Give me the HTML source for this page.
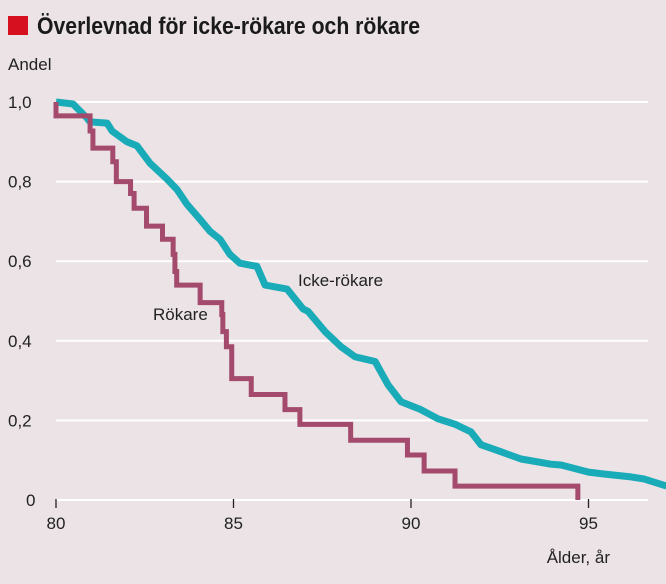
<!DOCTYPE html>
<html><head><meta charset="utf-8"><style>
body{margin:0;background:#ebe3e5;}
svg{display:block;font-family:"Liberation Sans",sans-serif;}
</style></head><body>
<svg width="666" height="584" viewBox="0 0 666 584">
<rect x="0" y="0" width="666" height="584" fill="#ebe3e5"/>
<rect x="8" y="16" width="20" height="19" fill="#d7101f"/>
<text x="37" y="34" font-family="Liberation Sans Narrow, Liberation Sans, sans-serif" font-weight="bold" font-size="24" textLength="383" lengthAdjust="spacingAndGlyphs" fill="#1a1a1a">Överlevnad för icke-rökare och rökare</text>
<text x="8" y="70" font-size="17" fill="#222">Andel</text>
<g id="grid"></g>
<g id="axis"></g>
<g id="series"></g>
<text x="298" y="286" font-size="17" fill="#222">Icke-rökare</text>
<text x="153" y="320" font-size="17" fill="#222">Rökare</text>
<text x="610" y="563" font-size="17" text-anchor="end" fill="#222">Ålder, år</text>
</svg>
<script>
const yTicks=[0,0.2,0.4,0.6,0.8,1.0];
const yTickLabels=["0","0,2","0,4","0,6","0,8","1,0"];
const xTicks=[80,85,90,95];
const xTickLabels=["80","85","90","95"];
const smokerAges=[80,80.96,81.04,81.6,81.7,82.1,82.2,82.55,83.0,83.3,83.35,83.4,84.06,84.67,84.7,84.8,84.95,85.5,86.45,86.87,88.3,89.9,90.37,91.24,94.7];
const smokerVals=[0.965,0.927,0.884,0.85,0.80,0.77,0.733,0.688,0.655,0.617,0.574,0.54,0.496,0.466,0.423,0.385,0.305,0.265,0.227,0.19,0.15,0.113,0.073,0.035,0];
const nonAges=[80,80.48,80.59,80.87,80.96,81.44,81.58,82.0,82.28,82.65,83.13,83.41,83.69,84.06,84.34,84.62,84.9,85.18,85.66,85.89,86.51,86.96,87.1,87.58,88.03,88.42,88.99,89.35,89.72,90.28,90.76,91.25,91.69,91.97,92.54,93.1,93.94,94.23,95.0,95.46,96.2,96.56,97.2];
const nonVals=[1.0,0.995,0.985,0.96,0.95,0.947,0.927,0.90,0.89,0.846,0.806,0.78,0.743,0.705,0.675,0.655,0.617,0.595,0.587,0.54,0.53,0.48,0.474,0.423,0.385,0.36,0.348,0.29,0.247,0.227,0.204,0.19,0.171,0.139,0.121,0.103,0.09,0.088,0.07,0.065,0.058,0.053,0.035];
const X=a=>56+(a-80)*35.5;
const Y=v=>500-v*398;
const NS="http://www.w3.org/2000/svg";
const grid=document.getElementById('grid'),axis=document.getElementById('axis'),ser=document.getElementById('series');
yTicks.forEach((t,i)=>{
 const l=document.createElementNS(NS,'line');
 l.setAttribute('x1',56);l.setAttribute('x2',648);l.setAttribute('y1',Y(t));l.setAttribute('y2',Y(t));
 l.setAttribute('stroke','#ffffff');l.setAttribute('stroke-width',2);
 
 
 grid.appendChild(l);
 const tx=document.createElementNS(NS,'text');
 tx.setAttribute('x',t===0?26:8);tx.setAttribute('y',Y(t)+6);tx.setAttribute('font-size','17');tx.setAttribute('fill','#222');
 tx.textContent=yTickLabels[i];
 
 
 axis.appendChild(tx);
});
xTicks.forEach((t,i)=>{
 const l=document.createElementNS(NS,'line');
 l.setAttribute('x1',X(t));l.setAttribute('x2',X(t));l.setAttribute('y1',Y(0)-1);l.setAttribute('y2',Y(0)+8);
 l.setAttribute('stroke','#222');l.setAttribute('stroke-width',1.3);
 
 
 axis.appendChild(l);
 const tx=document.createElementNS(NS,'text');
 tx.setAttribute('x',X(t));tx.setAttribute('y',529);tx.setAttribute('font-size','17');tx.setAttribute('text-anchor','middle');tx.setAttribute('fill','#222');
 tx.textContent=xTickLabels[i];
 
 
 axis.appendChild(tx);
});
function step(ages,vals,startVal){
 let d='M'+X(ages[0])+','+Y(startVal);
 for(let i=0;i<ages.length;i++){ d+=' H'+X(ages[i])+' V'+Y(vals[i]); }
 return d;
}
function poly(ages,vals){
 return ages.map((a,i)=>(i?'L':'M')+X(a)+','+Y(vals[i])).join(' ');
}
const nonPath=document.createElementNS(NS,'path');
nonPath.setAttribute('d',poly(nonAges,nonVals));
nonPath.setAttribute('fill','none');nonPath.setAttribute('stroke','#1aabb8');nonPath.setAttribute('stroke-width',7);nonPath.setAttribute('stroke-linejoin','round');


ser.appendChild(nonPath);
const smPath=document.createElementNS(NS,'path');
smPath.setAttribute('d',step(smokerAges,smokerVals,1.0));
smPath.setAttribute('fill','none');smPath.setAttribute('stroke','#a44a6c');smPath.setAttribute('stroke-width',5);


ser.appendChild(smPath);
</script>
</body></html>
